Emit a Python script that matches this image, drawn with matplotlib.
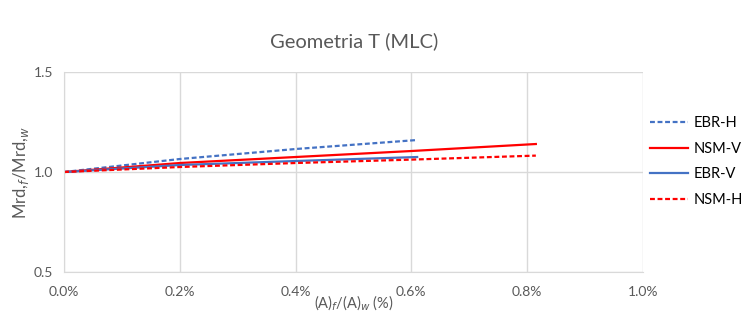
import matplotlib.pyplot as plt
from matplotlib.ticker import FuncFormatter

plt.rcParams['font.family'] = ['Lato', 'DejaVu Sans']

# (A)f/(A)w em %
x_ebr = [0.0, 0.2, 0.4, 0.61]
x_nsm = [0.0, 0.2, 0.4, 0.6, 0.815]

ebr_h = [1.0, 1.065, 1.115, 1.16]
nsm_v = [1.0, 1.045, 1.075, 1.105, 1.14]
ebr_v = [1.0, 1.035, 1.055, 1.075]
nsm_h = [1.0, 1.025, 1.045, 1.062, 1.082]

x_ticks = [0.0, 0.2, 0.4, 0.6, 0.8, 1.0]
y_ticks = [0.5, 1.0, 1.5]

azul = '#4472C4'
verm = '#FF0000'
cinza = '#595959'

fig = plt.figure(figsize=(7.47, 3.26), dpi=100)
ax = fig.add_axes([0.0857, 0.1656, 0.775, 0.6135])

ax.plot(x_ebr, ebr_h, color=azul, lw=1.6, ls=(0, (2.2, 1.2)), label='EBR-H')
ax.plot(x_nsm, nsm_v, color=verm, lw=1.6, label='NSM-V')
ax.plot(x_ebr, ebr_v, color=azul, lw=1.6, label='EBR-V')
ax.plot(x_nsm, nsm_h, color=verm, lw=1.6, ls=(0, (2.2, 1.2)), label='NSM-H')

ax.set_xlim(0, 1.0)
ax.set_ylim(0.5, 1.5)
ax.set_xticks(x_ticks)
ax.set_yticks(y_ticks)
ax.xaxis.set_major_formatter(FuncFormatter(lambda v, p: f'{v:.1f}%'))
ax.yaxis.set_major_formatter(FuncFormatter(lambda v, p: f'{v:.1f}'))
ax.tick_params(length=0, labelsize=10, colors=cinza, pad=8)
ax.tick_params(axis='x', pad=10)

ax.grid(True, color='#d9d9d9', lw=1)
ax.set_axisbelow(True)
for s in ax.spines.values():
    s.set_visible(False)
ax.spines['left'].set_visible(True)
ax.spines['left'].set_color('#d9d9d9')
ax.spines['bottom'].set_visible(True)
ax.spines['bottom'].set_color('#d9d9d9')

ax.set_ylabel(r'Mrd,$_{f}$/Mrd,$_{w}$', fontsize=12, color=cinza, labelpad=2)
ax.set_xlabel(r'(A)$_{f}$/(A)$_{w}$ (%)', fontsize=10.5, color=cinza, labelpad=-3)

fig.text(0.474, 0.875, 'Geometria T (MLC)', ha='center', va='center', fontsize=14.5, color=cinza)

ax.legend(loc='upper left', bbox_to_anchor=(650 / 747, 1 - 116 / 326),
          bbox_transform=fig.transFigure, frameon=False, borderpad=0,
          borderaxespad=0, fontsize=10.5, handlelength=2.6, labelspacing=0.8,
          handletextpad=0.4)

fig.savefig('out.png', dpi=100)
